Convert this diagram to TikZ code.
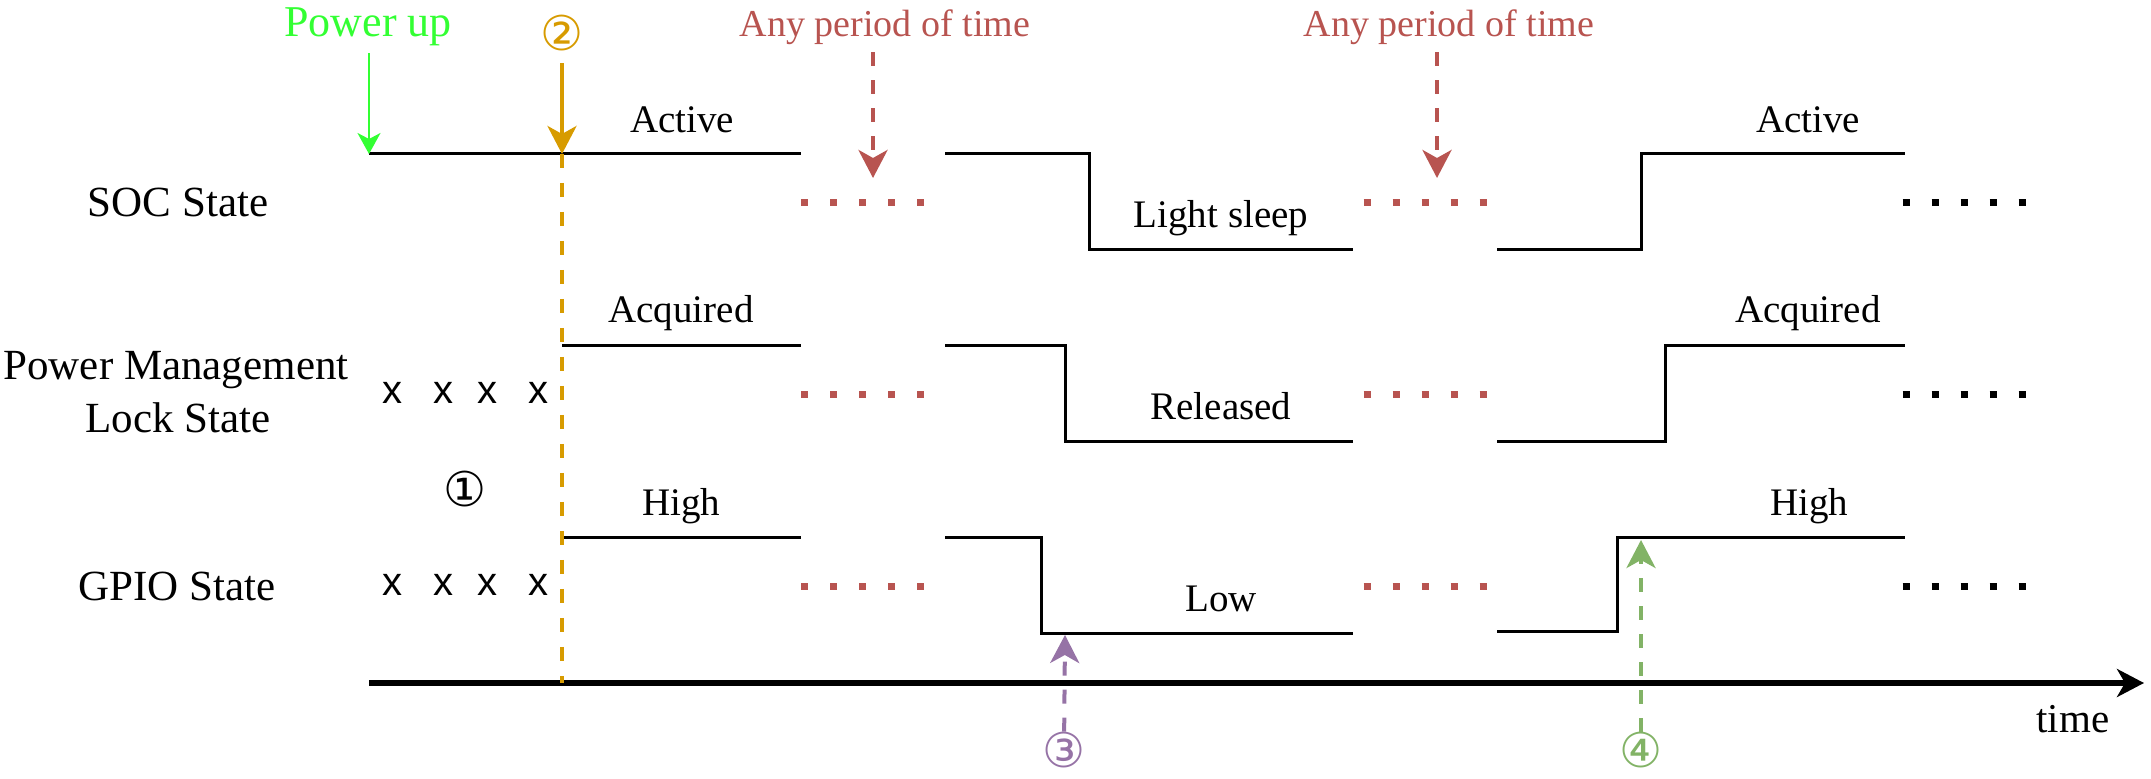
\documentclass[tikz,border=0pt]{standalone}
\usepackage{fontspec}
\setmainfont{Liberation Serif}
\newfontfamily\circfont{DejaVu Sans}
\newfontfamily\markfont{Liberation Sans}
\usetikzlibrary{arrows.meta}
\definecolor{pwrgreen}{RGB}{51,255,51}
\definecolor{orangeline}{RGB}{215,155,0}
\definecolor{redline}{RGB}{184,84,80}
\definecolor{purpleline}{RGB}{150,115,166}
\definecolor{greenline}{RGB}{130,179,102}
\begin{document}
\begin{tikzpicture}[x=0.5pt,y=0.5pt,yscale=-1,xscale=1,
  lbl/.style={font=\fontsize{19.5}{24}\selectfont, anchor=base},
  rowlbl/.style={font=\fontsize{21.5}{26}\selectfont, anchor=base},
  circnum/.style={font=\circfont\fontsize{24}{24}\selectfont, inner sep=0pt},
  xmark/.style={font=\markfont\fontsize{20}{20}\selectfont, inner sep=0pt},
  wave/.style={line width=1.5pt},
  gapdots/.style={line width=3.5pt, dash pattern=on 3.5pt off 11pt},
  bigtip/.style={-{Stealth[length=14pt,width=14.5pt,inset=4pt]}},
  dasharrow/.style={bigtip, line width=2pt, dash pattern=on 7pt off 7pt}]
%set diagram size
\useasboundingbox (0,0) rectangle (2151,779);
% Row labels
\node[rowlbl] (soc) at (178,217) {SOC State};
\node[rowlbl] (pmu) at (176,380) {Power Management};
\node[rowlbl] (lock) at (178,433) {Lock State};
\node[rowlbl] (gpio) at (177,601) {GPIO State};
% SOC waveform
\draw[wave] (369,154) -- (801,154);
\draw[wave] (945,154) -- (1089,154) -- (1089,250) -- (1353,250);
\draw[wave] (1497,250) -- (1641,250) -- (1641,154) -- (1905,154);
% Lock waveform
\draw[wave] (562,346) -- (801,346);
\draw[wave] (945,346) -- (1065,346) -- (1065,442) -- (1353,442);
\draw[wave] (1497,442) -- (1665,442) -- (1665,346) -- (1905,346);
% GPIO waveform
\draw[wave] (562,538) -- (801,538);
\draw[wave] (945,538) -- (1041,538) -- (1041,634) -- (1353,634);
\draw[wave] (1497,632) -- (1617,632) -- (1617,538) -- (1905,538);
% Gaps
\foreach \yy in {203,395,587} {
  \draw[gapdots,redline] (801,\yy) -- +(125,0);
  \draw[gapdots,redline] (1363.5,\yy) -- +(125,0);
  \draw[gapdots] (1902.5,\yy) -- +(125,0);
}
% Unknown states
\foreach \xm in {392,443,487,538} {
  \node[xmark] (xa\xm) at (\xm,393) {x};
  \node[xmark] (xb\xm) at (\xm,585) {x};
}
% State texts
\node[lbl] (act1) at (682,133) {Active};
\node[lbl] (act2) at (1808,133) {Active};
\node[lbl] (acq1) at (681,323) {Acquired};
\node[lbl] (acq2) at (1808,323) {Acquired};
\node[lbl] (hi1) at (681,516) {High};
\node[lbl] (hi2) at (1809,516) {High};
\node[lbl] (sleep) at (1221,228) {Light sleep};
\node[lbl] (rel) at (1221,420) {Released};
\node[lbl] (low) at (1221,612) {Low};
% Time axis
\coordinate (ax0) at (369,683);
\coordinate (ax1) at (2144,683);
\draw[line width=2.5pt,-{Stealth[length=13.5pt,width=14pt,inset=4pt]}] (ax0) -- (ax1);
\node[lbl,font=\fontsize{20.5}{24}\selectfont] (time) at (2073,732) {time};
% Power up
\node[lbl,font=\fontsize{22}{26}\selectfont,text=pwrgreen] (pwr) at (368,37) {Power up};
\coordinate (t1) at (369,154);
\draw[pwrgreen,line width=1pt,-{Stealth[length=10.5pt,width=11.5pt,inset=3pt]}] (pwr.south -| t1) -- (t1);
% Step 1
\node[circnum] (n1) at (465,489) {①};
% Step 2
\node[circnum,text=orangeline] (n2) at (562,33) {②};
\coordinate (t2) at (562,154);
\coordinate (ax2) at (562,683);
\draw[orangeline,line width=2pt,bigtip,shorten <=6pt] (n2) -- (t2);
\draw[orangeline,line width=2pt,dash pattern=on 7pt off 7.5pt] (t2) -- (ax2);
% Any period of time
\node[lbl,font=\fontsize{19}{24}\selectfont,text=redline] (any1) at (885,37) {Any period of time};
\node[lbl,font=\fontsize{19}{24}\selectfont,text=redline] (any2) at (1449,37) {Any period of time};
\coordinate (r1) at (873,178);
\coordinate (r2) at (1437,178);
\draw[redline,dasharrow] (any1.south -| r1) -- (r1);
\draw[redline,dasharrow] (any2.south -| r2) -- (r2);
% Step 3
\node[circnum,text=purpleline] (n3) at (1064,750) {③};
\coordinate (t3) at (1065,635);
\draw[purpleline,dasharrow] (n3) -- (t3);
% Step 4
\node[circnum,text=greenline] (n4) at (1641,750) {④};
\coordinate (t4) at (1641,540);
\draw[greenline,dasharrow] (n4) -- (t4);
\end{tikzpicture}
\end{document}
